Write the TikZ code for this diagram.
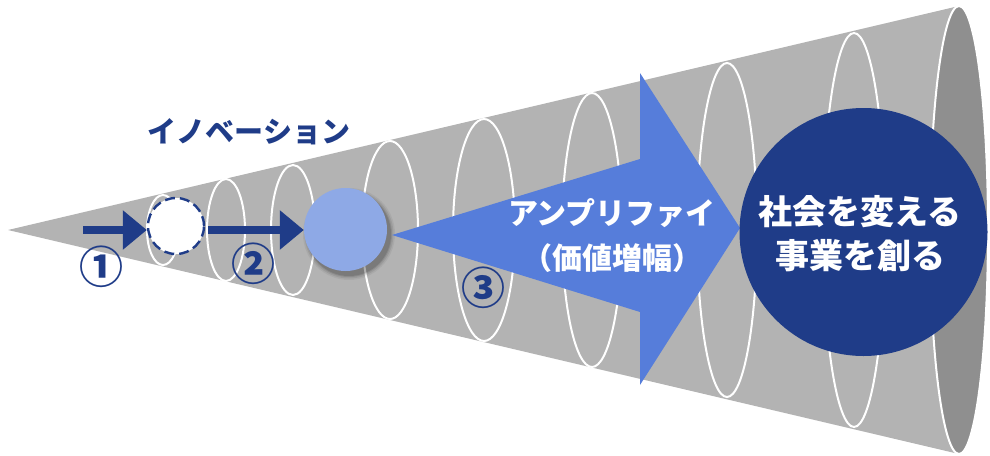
\documentclass[tikz,border=0pt]{standalone}
\usepackage{fontspec}
\newfontfamily\jp{Noto Sans CJK JP}
\usetikzlibrary{arrows.meta}
\definecolor{navy}{HTML}{1F3C88}
\definecolor{lightblue}{HTML}{8EA9E6}
\definecolor{royal}{HTML}{567DDA}
\definecolor{conegray}{HTML}{B3B3B3}
\definecolor{endgray}{HTML}{8F8F8F}
\tikzset{
  ring/.style={draw=white, line width=2pt},
  navyarrow/.style={draw=navy, line width=8pt, -{Triangle[length=24pt,width=38pt]}},
  numlabel/.style={text=navy, font=\jp\bfseries\fontsize{44}{46}\selectfont, inner sep=0pt},
}
\begin{document}
\begin{tikzpicture}[x=1pt,y=-1pt]
\useasboundingbox (0,0) rectangle (990,455);
% cone body
\fill[conegray] (8,230) -- (959,6) -- (959,454) -- cycle;
% rings
\draw[ring] (163,230) ellipse [x radius=16, y radius=35];
\draw[ring] (226,230) ellipse [x radius=19, y radius=51];
\draw[ring] (293,230) ellipse [x radius=22, y radius=65];
\draw[ring] (390,230) ellipse [x radius=28, y radius=89];
\draw[ring] (484,230) ellipse [x radius=31, y radius=111];
\draw[ring] (592,230) ellipse [x radius=30, y radius=137];
\draw[ring] (727,230) ellipse [x radius=30, y radius=167];
\draw[ring] (854,230) ellipse [x radius=31, y radius=197];
% end face
\fill[endgray] (959,230) ellipse [x radius=29, y radius=224];
\draw[ring] (959,230) ellipse [x radius=29, y radius=224];
% innovation label
\node[text=navy, font=\jp\bfseries\fontsize{29}{32}\selectfont, inner sep=0pt] (inno) at (249,132) {イノベーション};
% dashed circle
\node[circle, minimum size=56pt, inner sep=0pt, fill=white, draw=navy, line width=2.4pt, dash pattern=on 10pt off 5pt] (dc) at (176,226) {};
% light blue circle with soft shadow
\foreach \r/\o in {46/0.05,44.5/0.08,43/0.1,42/0.12}{
  \fill[black, opacity=\o] (349,234) circle (\r);
}
\node[circle, minimum size=83pt, inner sep=0pt, fill=lightblue] (lb) at (345.5,229.5) {};
% arrows 1 and 2
\coordinate (s1) at (83,230);
\draw[navyarrow] (s1) -- (dc.west |- s1);
\coordinate (s2) at (208,230);
\draw[navyarrow] (s2) -- (lb.west |- s2);
% amplify arrow
\fill[royal] (392,235) -- (640,159) -- (640,73) -- (740,228) -- (640,385) -- (640,312) -- cycle;
\node[align=center, text=white, font=\jp\bfseries\fontsize{30}{45}\selectfont, inner sep=0pt] (amp) at (612,236) {アンプリファイ\\（価値増幅）};
% goal circle
\node[circle, minimum size=248pt, inner sep=0pt, fill=navy] (goal) at (863.5,232) {};
\node[align=center, text=white, font=\jp\bfseries\fontsize{34}{44}\selectfont, inner sep=0pt] (goaltext) at (860,234) {社会を変える\\事業を創る};
% number labels
\node[numlabel] (n1) at (101,267) {①};
\node[numlabel] (n2) at (253,264) {②};
\node[numlabel] (n3) at (483,288) {③};
\end{tikzpicture}
\end{document}
